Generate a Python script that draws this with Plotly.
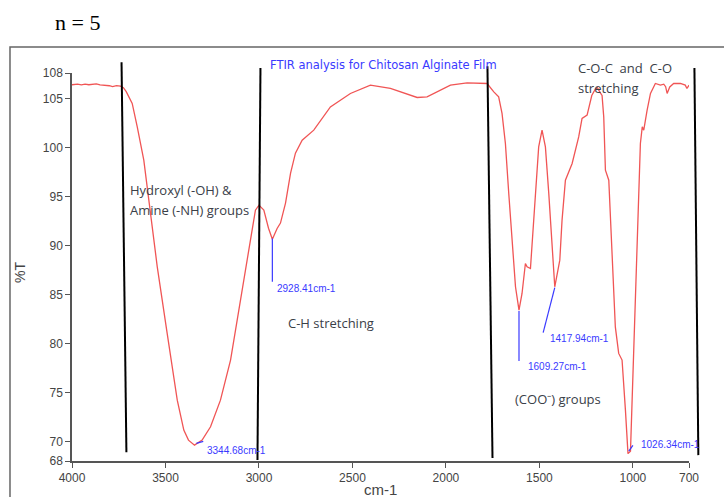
import plotly.graph_objects as go

# ---------------- data ----------------
wavenumber = [4000, 3970, 3950, 3930, 3910, 3890, 3870, 3850, 3826, 3800, 3783, 3762, 3741, 3725,
              3710, 3696, 3678, 3651, 3616, 3589, 3544, 3491, 3437, 3402, 3377, 3344.68, 3304,
              3259, 3206, 3152, 3099, 3055, 3019, 3000, 2974, 2949, 2928.41, 2903, 2885, 2858,
              2831, 2805, 2769, 2707, 2618, 2511, 2404, 2297, 2154, 2101, 1976, 1887, 1780,
              1744, 1718, 1700, 1682, 1664, 1646, 1628, 1609.27, 1593, 1575, 1566, 1548, 1539,
              1521, 1504, 1486, 1468, 1450, 1432, 1417.94, 1391, 1379, 1361, 1325, 1290, 1272,
              1245, 1220, 1200, 1190, 1175, 1165, 1156, 1147, 1129, 1111, 1094, 1076, 1058,
              1040, 1026.34, 1013, 1004, 987, 969, 960, 950, 942, 924, 906, 880, 853, 835, 825,
              817, 803, 782, 746, 720, 711, 700]
transmittance = [106.40, 106.46, 106.38, 106.47, 106.40, 106.44, 106.48, 106.38, 106.36, 106.30,
                 106.22, 106.31, 106.26, 106.10, 105.70, 105.16, 104.49, 102.10, 98.70, 94.62,
                 87.82, 81.02, 74.21, 71.15, 70.13, 69.62, 70.13, 71.49, 74.21, 78.30, 84.42,
                 89.52, 93.60, 94.11, 93.60, 91.76, 90.64, 91.73, 92.28, 94.32, 97.38, 99.42,
                 100.74, 101.77, 104.14, 105.51, 106.36, 106.02, 105.10, 105.16, 106.36, 106.59,
                 106.53, 105.67, 105.16, 103.47, 100.41, 95.31, 90.20, 85.78, 83.40, 85.10,
                 88.16, 87.82, 87.65, 90.20, 95.31, 100.06, 101.77, 100.06, 95.31, 90.20, 85.78,
                 88.50, 92.58, 96.66, 98.37, 101.08, 102.96, 103.30, 105.30, 106.00, 106.10,
                 105.60, 105.31, 103.12, 97.68, 96.66, 88.50, 81.69, 78.98, 78.30, 73.19, 68.75,
                 69.00, 74.69, 84.90, 95.31, 100.41, 102.10, 101.77, 103.81, 105.51, 106.53,
                 106.36, 106.46, 106.20, 105.51, 106.18, 106.53, 106.53, 106.36, 106.02, 106.36]

x_ticks = [4000, 3500, 3000, 2500, 2000, 1500, 1000, 700]
y_ticks = [68, 70, 75, 80, 85, 90, 95, 100, 105, 107.6]
y_tick_text = ["68", "70", "75", "80", "85", "90", "95", "100", "105", "108"]

# region boundary lines (wavenumber / %T at top and bottom)
region_top_wn = [3735, 2992, 1778, 671]
region_top_t = [108.7, 108.1, 108.3, 108.1]
region_bot_wn = [3709, 3008, 1751, 650]
region_bot_t = [68.9, 68.1, 68.3, 68.6]

# peak labels
peak_labels = ["3344.68cm-1", "2928.41cm-1", "1609.27cm-1", "1417.94cm-1", "1026.34cm-1"]
peak_line_x0 = [3335, 2928.41, 1609.27, 1417.94, 1022]
peak_line_y0 = [69.8, 90.7, 83.3, 85.7, 69.0]
peak_line_x1 = [3298, 2928.41, 1609.27, 1480, 1000]
peak_line_y1 = [70.0, 86.3, 78.2, 81.1, 69.6]
peak_label_x = [3286, 2912, 1570, 1452, 965]
peak_label_y = [69.12, 85.65, 77.69, 80.55, 69.73]

# group annotations
group_texts = ["Hydroxyl (-OH) &", "Amine (-NH) groups", "C-H stretching", "(COO\u207b) groups",
               "C-O-C  and  C-O", "stretching"]
group_x = [3698, 3698, 2858, 1639, 1307, 1307]
group_y = [95.65, 93.6, 82.08, 74.33, 108.1, 106.06]

X0, X1 = 4000, 700
Y0, Y1 = 68, 107.6


def px(wn):
    return (X0 - wn) / (X0 - X1)


def py(t):
    return (t - Y0) / (Y1 - Y0)


fig = go.Figure()
fig.add_trace(go.Scatter(x=wavenumber, y=transmittance, mode="lines",
                         line=dict(color="rgb(240,85,85)", width=1.3),
                         showlegend=False, hoverinfo="skip"))

shapes = []
# outer frame
shapes.append(dict(type="rect", xref="paper", yref="paper", x0=-0.1005, x1=1.3, y0=-0.3, y1=1.067,
                   line=dict(color="#666666", width=1.5), fillcolor="rgba(0,0,0,0)", layer="below"))
for a, b, c, d in zip(region_top_wn, region_top_t, region_bot_wn, region_bot_t):
    shapes.append(dict(type="line", xref="paper", yref="paper", x0=px(a), y0=py(b), x1=px(c), y1=py(d),
                       line=dict(color="black", width=2)))
for a, b, c, d in zip(peak_line_x0, peak_line_y0, peak_line_x1, peak_line_y1):
    shapes.append(dict(type="line", xref="paper", yref="paper", x0=px(a), y0=py(b), x1=px(c), y1=py(d),
                       line=dict(color="#3a3aff", width=1.2)))

annotations = []
for t, x, y in zip(peak_labels, peak_label_x, peak_label_y):
    annotations.append(dict(text=t, xref="paper", yref="paper", x=px(x), y=py(y), xanchor="left",
                            yanchor="middle", showarrow=False,
                            font=dict(family="Liberation Sans", size=10, color="#3a3aff")))
for t, x, y in zip(group_texts, group_x, group_y):
    annotations.append(dict(text=t, xref="paper", yref="paper", x=px(x), y=py(y), xanchor="left",
                            yanchor="middle", showarrow=False,
                            font=dict(family="Open Sans", size=13, color="#3a4048")))
annotations.append(dict(text="FTIR analysis for Chitosan Alginate Film", xref="paper", yref="paper",
                        x=0.318, y=1.0206, xanchor="left", yanchor="middle", showarrow=False,
                        font=dict(family="DejaVu Sans", size=11.5, color="#3a3aff")))
annotations.append(dict(text="n = 5", xref="paper", yref="paper", x=-0.0316, y=1.131,
                        xanchor="left", yanchor="middle", showarrow=False,
                        font=dict(family="Liberation Serif", size=22, color="black")))
annotations.append(dict(text="cm-1", xref="paper", yref="paper", x=0.5, y=-0.0747,
                        xanchor="center", yanchor="middle", showarrow=False,
                        font=dict(family="Liberation Sans", size=15, color="#444444")))
annotations.append(dict(text="%T", xref="paper", yref="paper", x=-0.0843, y=0.487, textangle=-90,
                        xanchor="center", yanchor="middle", showarrow=False,
                        font=dict(family="Liberation Sans", size=14, color="#444444")))

fig.update_layout(
    width=724, height=497,
    margin=dict(l=72, r=35, t=73, b=36, autoexpand=False),
    paper_bgcolor="white", plot_bgcolor="white",
    shapes=shapes, annotations=annotations,
    xaxis=dict(range=[X0, X1], tickvals=x_ticks, ticktext=[str(v) for v in x_ticks],
               showgrid=False, zeroline=False, showline=True, linecolor="#555555", linewidth=1.5,
               ticks="outside", ticklen=5, tickcolor="#555555",
               tickfont=dict(family="Liberation Sans", size=12, color="#444444")),
    yaxis=dict(range=[Y0, Y1], tickvals=y_ticks, ticktext=y_tick_text,
               showgrid=False, zeroline=False, showline=True, linecolor="#555555", linewidth=1.5,
               ticks="outside", ticklen=5, tickcolor="#555555",
               tickfont=dict(family="Liberation Sans", size=12, color="#444444")),
)

fig.write_html("out.html", config={"displayModeBar": False},
               post_script="document.body.style.margin='0';document.body.style.overflow='hidden';")
